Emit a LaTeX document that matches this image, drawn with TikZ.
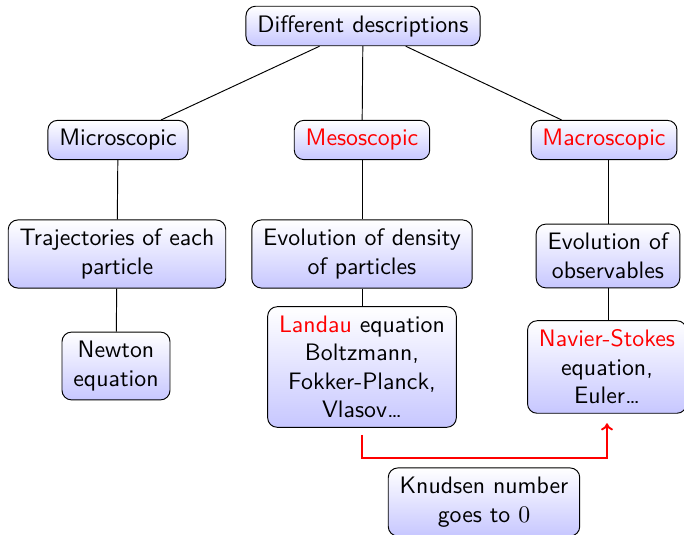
\documentclass[tikz,border=0pt]{standalone}
\usetikzlibrary{arrows.meta}
\begin{document}
\begin{tikzpicture}[x=0.42pt,y=-0.42pt,
  box/.style={draw, rounded corners=4pt, top color=white, bottom color=blue!22, font=\sffamily, align=center, inner xsep=4.8pt, inner ysep=3.8pt},
  link/.style={draw, thin},
  redarrow/.style={draw=red, thick, -{To[length=3pt,width=5pt]}}]
\useasboundingbox (0,0) rectangle (684,535);
\node[box] (root) at (363,26) {Different descriptions};
\node[box] (micro) at (118,140) {Microscopic};
\node[box] (meso) at (362,140) {\textcolor{red}{Mesoscopic}};
\node[box] (macro) at (604,140) {\textcolor{red}{Macroscopic}};
\node[box] (traj) at (117,254) {Trajectories of each\\particle};
\node[box] (dens) at (362,254) {Evolution of density\\of particles};
\node[box] (obs) at (608,256) {Evolution of\\observables};
\node[box] (newton) at (116,366) {Newton\\equation};
\node[box] (landau) at (362,367) {\textcolor{red}{Landau} equation\\Boltzmann,\\Fokker-Planck,\\Vlasov\dots};
\node[box] (navier) at (607,367) {\textcolor{red}{Navier-Stokes}\\equation,\\Euler\dots};
\node[box] (knud) at (484,502) {Knudsen number\\goes to $0$};
\draw[link] (root) -- (micro);
\draw[link] (root) -- (meso);
\draw[link] (root) -- (macro);
\draw[link] (micro) -- (traj);
\draw[link] (traj) -- (newton);
\draw[link] (meso) -- (dens);
\draw[link] (dens) -- (landau);
\draw[link] (macro.south -| obs.north) -- (obs.north);
\draw[link] (obs.south) -- (obs.south |- navier.north);
\draw[redarrow, shorten <=3pt, shorten >=4pt] (landau.south) -- ++(0,30) -| (navier.south);
\end{tikzpicture}
\end{document}
